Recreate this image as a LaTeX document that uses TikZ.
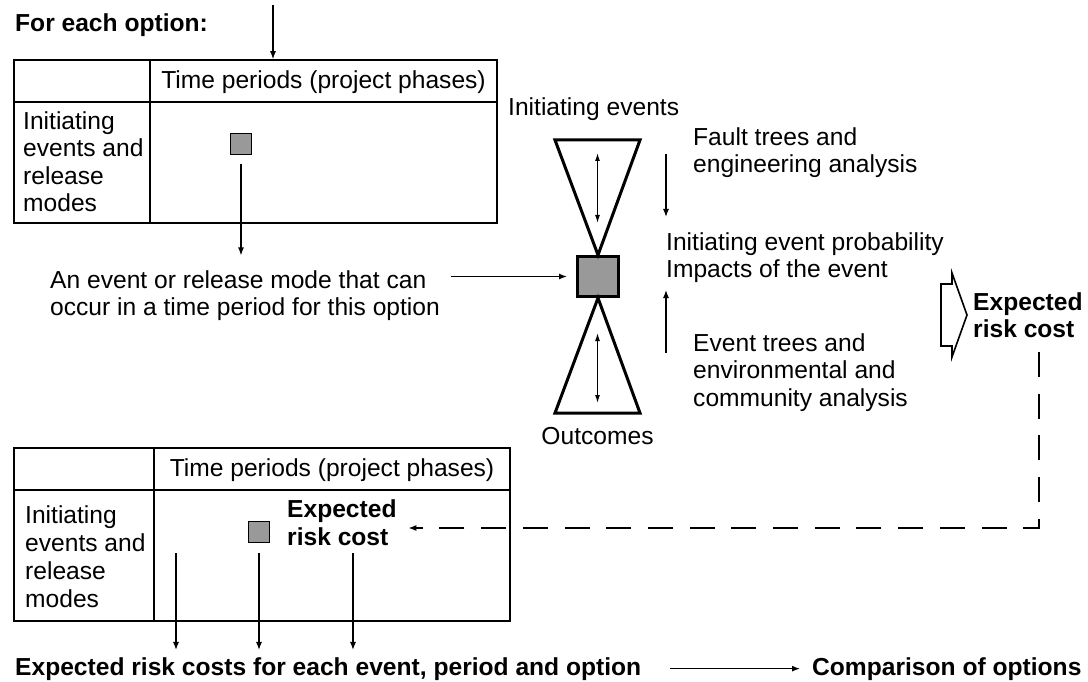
\documentclass[tikz,border=0pt]{standalone}
\usepackage{fontspec}
\setmainfont{Liberation Sans}
\usetikzlibrary{arrows.meta}
\definecolor{boxgray}{RGB}{153,153,153}
\begin{document}
\begin{tikzpicture}[x=1pt,y=-1pt,
  txt/.style={inner sep=0pt, font=\fontsize{24.6}{27}\selectfont, align=left},
  btxt/.style={inner sep=0pt, font=\fontsize{24.6}{27}\selectfont\bfseries, align=left},
  tbl/.style={draw, line width=1.6pt, inner sep=0pt},
  tline/.style={line width=1.6pt},
  arr/.style={line width=1.2pt, -{Latex[length=8pt,width=6pt]}},
  darr/.style={line width=1.2pt, {Latex[length=8pt,width=5pt]}-{Latex[length=8pt,width=5pt]}},
  smallsq/.style={draw, line width=1.2pt, fill=boxgray, minimum size=21pt, inner sep=0pt},
  bigsq/.style={draw, line width=3pt, fill=boxgray, minimum width=41pt, minimum height=40pt, inner sep=0pt},
  tri/.style={line width=3pt, line join=miter},
  dashline/.style={line width=2pt, dash pattern=on 25pt off 16.7pt, -{Latex[length=8pt,width=6pt]}},
  blockarrow/.style={line width=1.6pt, line join=miter}
]
\useasboundingbox (0,0) rectangle (1088,682);

% ---------- top part ----------
\node[btxt, anchor=base west] (fe) at (15,32) {For each option:};

\node[tbl, minimum width=483pt, minimum height=163pt] (t1) at (255.5,141.5) {};
\draw[tline] (14,102) -- (497,102);
\draw[tline] (150,60) -- (150,223);
\node[txt, anchor=base] (h1) at (323.5,89) {Time periods (project phases)};
\node[txt, anchor=north west, font=\fontsize{24.6}{27.3}\selectfont] (r1) at (23,111.4) {Initiating\\events and\\release\\modes};
\node[smallsq] (sq1) at (241,144) {};

\coordinate (topstart) at (273,5);
\draw[arr] (topstart) -- (topstart |- t1.north);

\node[txt, anchor=north west] (ev) at (50,270.4) {An event or release mode that can\\occur in a time period for this option};
\draw[arr, shorten <=9pt, shorten >=15pt] (sq1.south) -- (sq1.south |- ev.north);

% ---------- bow tie ----------
\node[bigsq] (sq) at (598,276.5) {};
\draw[arr, shorten <=11pt, shorten >=9pt] (ev.east |- sq.west) -- (sq.west);

\draw[tri] (555,140) -- (640,140) -- (sq.north) -- cycle;
\draw[tri] (555,413) -- (640,413) -- (sq.south) -- cycle;
\coordinate (ta) at (597.5,153);
\coordinate (tb) at (597.5,223);
\coordinate (ba) at (597.5,333);
\coordinate (bb) at (597.5,403);
\draw[darr] (ta) -- (tb);
\draw[darr] (ba) -- (bb);

\node[txt, anchor=base west] (ie) at (508,116) {Initiating events};
\node[txt, anchor=base] (out) at (597.5,444) {Outcomes};

\node[txt, anchor=north west] (ft) at (693,127.4) {Fault trees and\\engineering analysis};
\node[txt, anchor=north west] (iep) at (666,232.4) {Initiating event probability\\Impacts of the event};
\node[txt, anchor=north west, font=\fontsize{24.6}{27.3}\selectfont] (et) at (693,333.4) {Event trees and\\environmental and\\community analysis};

\coordinate (fa) at (666,154);
\coordinate (fb) at (666,217);
\coordinate (ea) at (666,353);
\coordinate (eb) at (666,290);
\draw[arr] (fa) -- (fb);
\draw[arr] (ea) -- (eb);

% block arrow
\draw[blockarrow] (941,284) -- (952,284) -- (952,273) -- (967,315) -- (952,357) -- (952,346) -- (941,346) -- cycle;
\node[btxt, anchor=north west] (erc1) at (973,292.4) {Expected\\risk cost};

% ---------- bottom table ----------
\node[tbl, minimum width=496pt, minimum height=173pt] (t2) at (262,534.5) {};
\draw[tline] (14,490) -- (510,490);
\draw[tline] (154,448) -- (154,621);
\node[txt, anchor=base] (h2) at (332,476) {Time periods (project phases)};
\node[txt, anchor=north west, font=\fontsize{24.6}{28}\selectfont] (r2) at (25,505.4) {Initiating\\events and\\release\\modes};
\node[smallsq] (sq2) at (259,532) {};
\node[btxt, anchor=north west, font=\fontsize{24.6}{28}\selectfont\bfseries] (erc2) at (287,499.4) {Expected\\risk cost};

% dashed feedback
\coordinate (dstart) at (1039,352);
\coordinate (dcorner) at (1039,528);
\draw[dashline, shorten >=11.5pt] (dstart) -- (dcorner) -- (erc2.east |- dcorner);

% ---------- bottom line ----------
\node[btxt, anchor=base west] (bot) at (15,675) {Expected risk costs for each event, period and option};
\node[btxt, anchor=base west] (cmp) at (812,675) {Comparison of options};
\draw[arr, shorten <=29pt, shorten >=12pt] (bot.east) -- (cmp.west);

\coordinate (a1) at (176,553);
\coordinate (a3) at (353,553);
\draw[arr, shorten >=7pt] (a1) -- (a1 |- bot.north);
\draw[arr, shorten <=10pt, shorten >=7pt] (sq2.south) -- (sq2.south |- bot.north);
\draw[arr, shorten >=7pt] (a3) -- (a3 |- bot.north);
\end{tikzpicture}
\end{document}
